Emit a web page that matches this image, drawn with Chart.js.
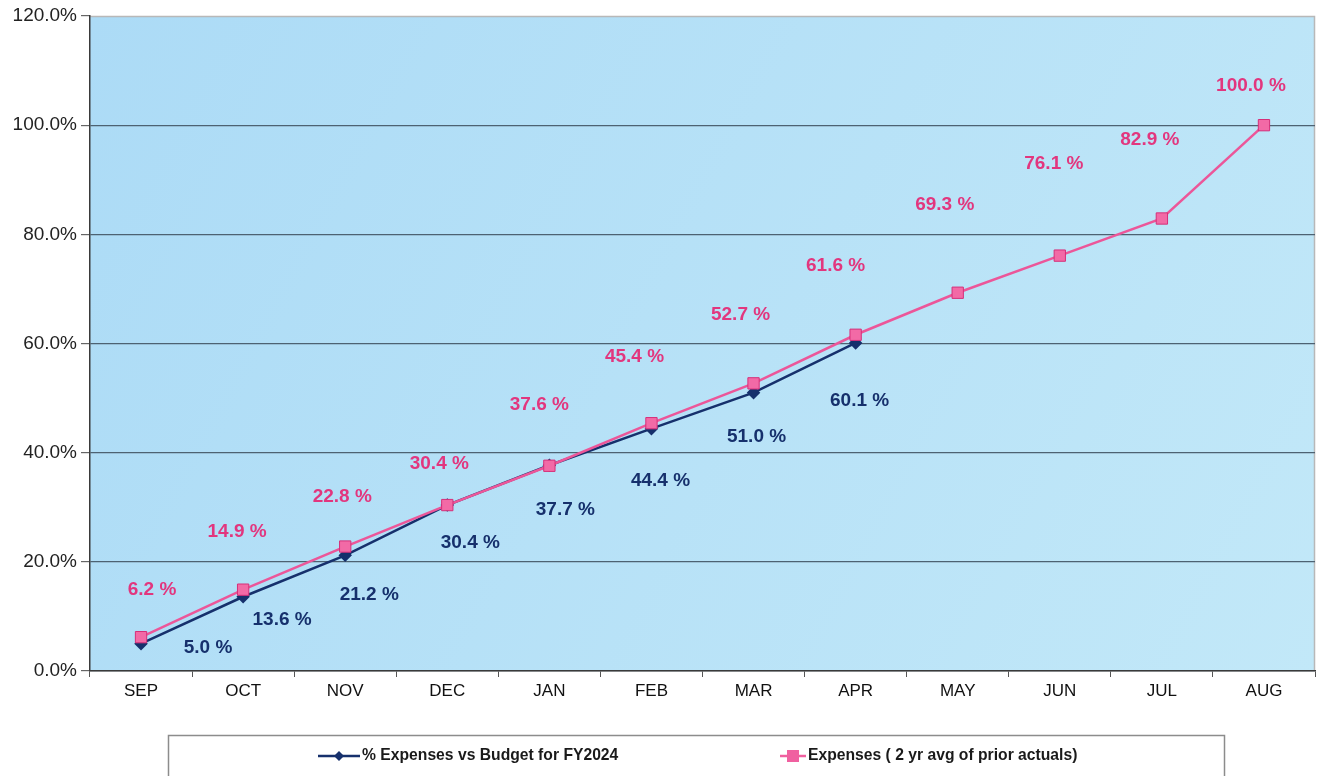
<!DOCTYPE html>
<html>
<head>
<meta charset="utf-8">
<script src="https://cdn.jsdelivr.net/npm/chart.js@4.4.1/dist/chart.umd.min.js"></script>
<style>
html,body{margin:0;padding:0;background:#fff;}
#wrap{position:relative;width:1320px;height:776px;}
</style>
</head>
<body>
<div id="wrap"><canvas id="c" width="1320" height="776"></canvas></div>
<script>
// ---- data ----
const months = ['SEP','OCT','NOV','DEC','JAN','FEB','MAR','APR','MAY','JUN','JUL','AUG'];
const budgetPct = [5.0, 13.6, 21.2, 30.4, 37.7, 44.4, 51.0, 60.1, null, null, null, null];
const priorAvgPct = [6.2, 14.9, 22.8, 30.4, 37.6, 45.4, 52.7, 61.6, 69.3, 76.1, 82.9, 100.0];
const seriesNames = ['% Expenses vs Budget for FY2024', 'Expenses ( 2 yr avg of prior actuals)'];
const yTicks = [0, 20, 40, 60, 80, 100, 120];

// label offsets (pixels from each point, as placed in the reference)
const budgetLabelOffsets = [[67,4],[39,23],[24,39],[23,38],[16,45],[9,52],[3,44],[4,58]];
const priorLabelOffsets = [[11,-47],[-6,-58],[-3,-50],[-8,-41],[-10,-61],[-17,-66],[-13,-69],[-20,-69],[-13,-88],[-6,-92],[-12,-79],[-13,-39]];

const NAVY = '#16306c';
const PINK = '#e2367e';
const FONT = '"Liberation Sans", Arial, sans-serif';

const bgPlugin = {
  id: 'bg',
  beforeDraw(chart) {
    const {ctx, chartArea: a} = chart;
    ctx.save();
    const g = ctx.createLinearGradient(a.left, a.top, a.right, a.bottom);
    g.addColorStop(0, '#acdbf6');
    g.addColorStop(1, '#c2e8f8');
    ctx.fillStyle = g;
    ctx.fillRect(a.left, a.top, a.right - a.left, a.bottom - a.top);
    ctx.strokeStyle = '#b8b8b8';
    ctx.lineWidth = 1.5;
    ctx.beginPath();
    ctx.moveTo(a.left, a.top + 0.5);
    ctx.lineTo(a.right - 0.5, a.top + 0.5);
    ctx.lineTo(a.right - 0.5, a.bottom);
    ctx.stroke();
    ctx.restore();
  }
};

const labelPlugin = {
  id: 'vlabels',
  afterDatasetsDraw(chart) {
    const {ctx} = chart;
    ctx.save();
    ctx.font = 'bold 19px ' + FONT;
    ctx.textAlign = 'center';
    ctx.textBaseline = 'middle';
    const offs = [budgetLabelOffsets, priorLabelOffsets];
    const cols = [NAVY, PINK];
    chart.data.datasets.forEach((ds, di) => {
      const meta = chart.getDatasetMeta(di);
      meta.data.forEach((pt, i) => {
        const v = ds.data[i];
        if (v === null || v === undefined) return;
        const o = offs[di][i] || [0, -20];
        ctx.fillStyle = cols[di];
        ctx.fillText(v.toFixed(1) + ' %', pt.x + o[0], pt.y + o[1]);
      });
    });
    ctx.restore();
  }
};

const legendPlugin = {
  id: 'legendBox',
  afterDraw(chart) {
    const {ctx} = chart;
    ctx.save();
    ctx.fillStyle = '#ffffff';
    ctx.fillRect(168, 735, 1056, 50);
    ctx.strokeStyle = '#8c8c8c';
    ctx.lineWidth = 1.5;
    ctx.strokeRect(168.5, 735.5, 1056, 50);
    ctx.font = 'bold 15.7px ' + FONT;
    ctx.textBaseline = 'middle';
    const y = 756;
    ctx.strokeStyle = NAVY; ctx.lineWidth = 2.5;
    ctx.beginPath(); ctx.moveTo(318, y); ctx.lineTo(360, y); ctx.stroke();
    ctx.fillStyle = NAVY;
    ctx.beginPath(); ctx.moveTo(339, y - 5); ctx.lineTo(344, y); ctx.lineTo(339, y + 5); ctx.lineTo(334, y); ctx.closePath(); ctx.fill();
    ctx.fillStyle = '#1a1a1a';
    ctx.fillText(chart.data.datasets[0].label, 362, y);
    ctx.strokeStyle = '#f060a0'; ctx.lineWidth = 2.5;
    ctx.beginPath(); ctx.moveTo(780, y); ctx.lineTo(806, y); ctx.stroke();
    ctx.fillStyle = '#f060a0';
    ctx.fillRect(787, y - 6, 12, 12);
    ctx.fillStyle = '#1a1a1a';
    ctx.fillText(chart.data.datasets[1].label, 808, y);
    ctx.restore();
  }
};

new Chart(document.getElementById('c'), {
  type: 'line',
  data: {
    labels: months,
    datasets: [
      {
        label: seriesNames[0],
        data: budgetPct,
        borderColor: NAVY,
        backgroundColor: NAVY,
        borderWidth: 2.5,
        pointStyle: 'rectRot',
        pointRadius: 5,
        pointBackgroundColor: NAVY,
        pointBorderColor: NAVY,
        tension: 0,
        spanGaps: false,
        order: 2
      },
      {
        label: seriesNames[1],
        data: priorAvgPct,
        borderColor: '#ec5699',
        backgroundColor: '#f26aa6',
        borderWidth: 2.5,
        pointStyle: 'rect',
        pointRadius: 8,
        pointBackgroundColor: '#f26aa6',
        pointBorderColor: '#d62f79',
        pointBorderWidth: 1,
        tension: 0,
        order: 1
      }
    ]
  },
  options: {
    responsive: false,
    animation: false,
    devicePixelRatio: 1,
    layout: { autoPadding: false, padding: { top: 16, right: 5, bottom: 75, left: 0 } },
    plugins: { legend: { display: false }, tooltip: { enabled: false } },
    scales: {
      x: {
        offset: true,
        grid: { display: true, drawOnChartArea: false, drawTicks: true, offset: true, tickLength: 6, color: '#555' },
        border: { display: true, color: '#3a3a3a', width: 1.5 },
        ticks: { color: '#111', font: { family: FONT, size: 17 }, padding: 4, maxRotation: 0 },
        afterFit(s) { s.height = 30; }
      },
      y: {
        min: 0, max: 120,
        afterBuildTicks(s) { s.ticks = yTicks.map(v => ({ value: v })); },
        grid: {
          color(c) { return c.tick && c.tick.value === 120 ? 'rgba(0,0,0,0)' : '#4d6272'; },
          lineWidth: 1.2,
          tickLength: 9,
          tickColor: '#666',
          drawTicks: true
        },
        border: { display: true, color: '#3a3a3a', width: 1.5 },
        ticks: {
          color: '#222',
          font: { family: FONT, size: 19 },
          padding: 4,
          callback: v => v.toFixed(1) + '%'
        },
        afterFit(s) { s.width = 90; }
      }
    }
  },
  plugins: [bgPlugin, labelPlugin, legendPlugin]
});
</script>
</body>
</html>
